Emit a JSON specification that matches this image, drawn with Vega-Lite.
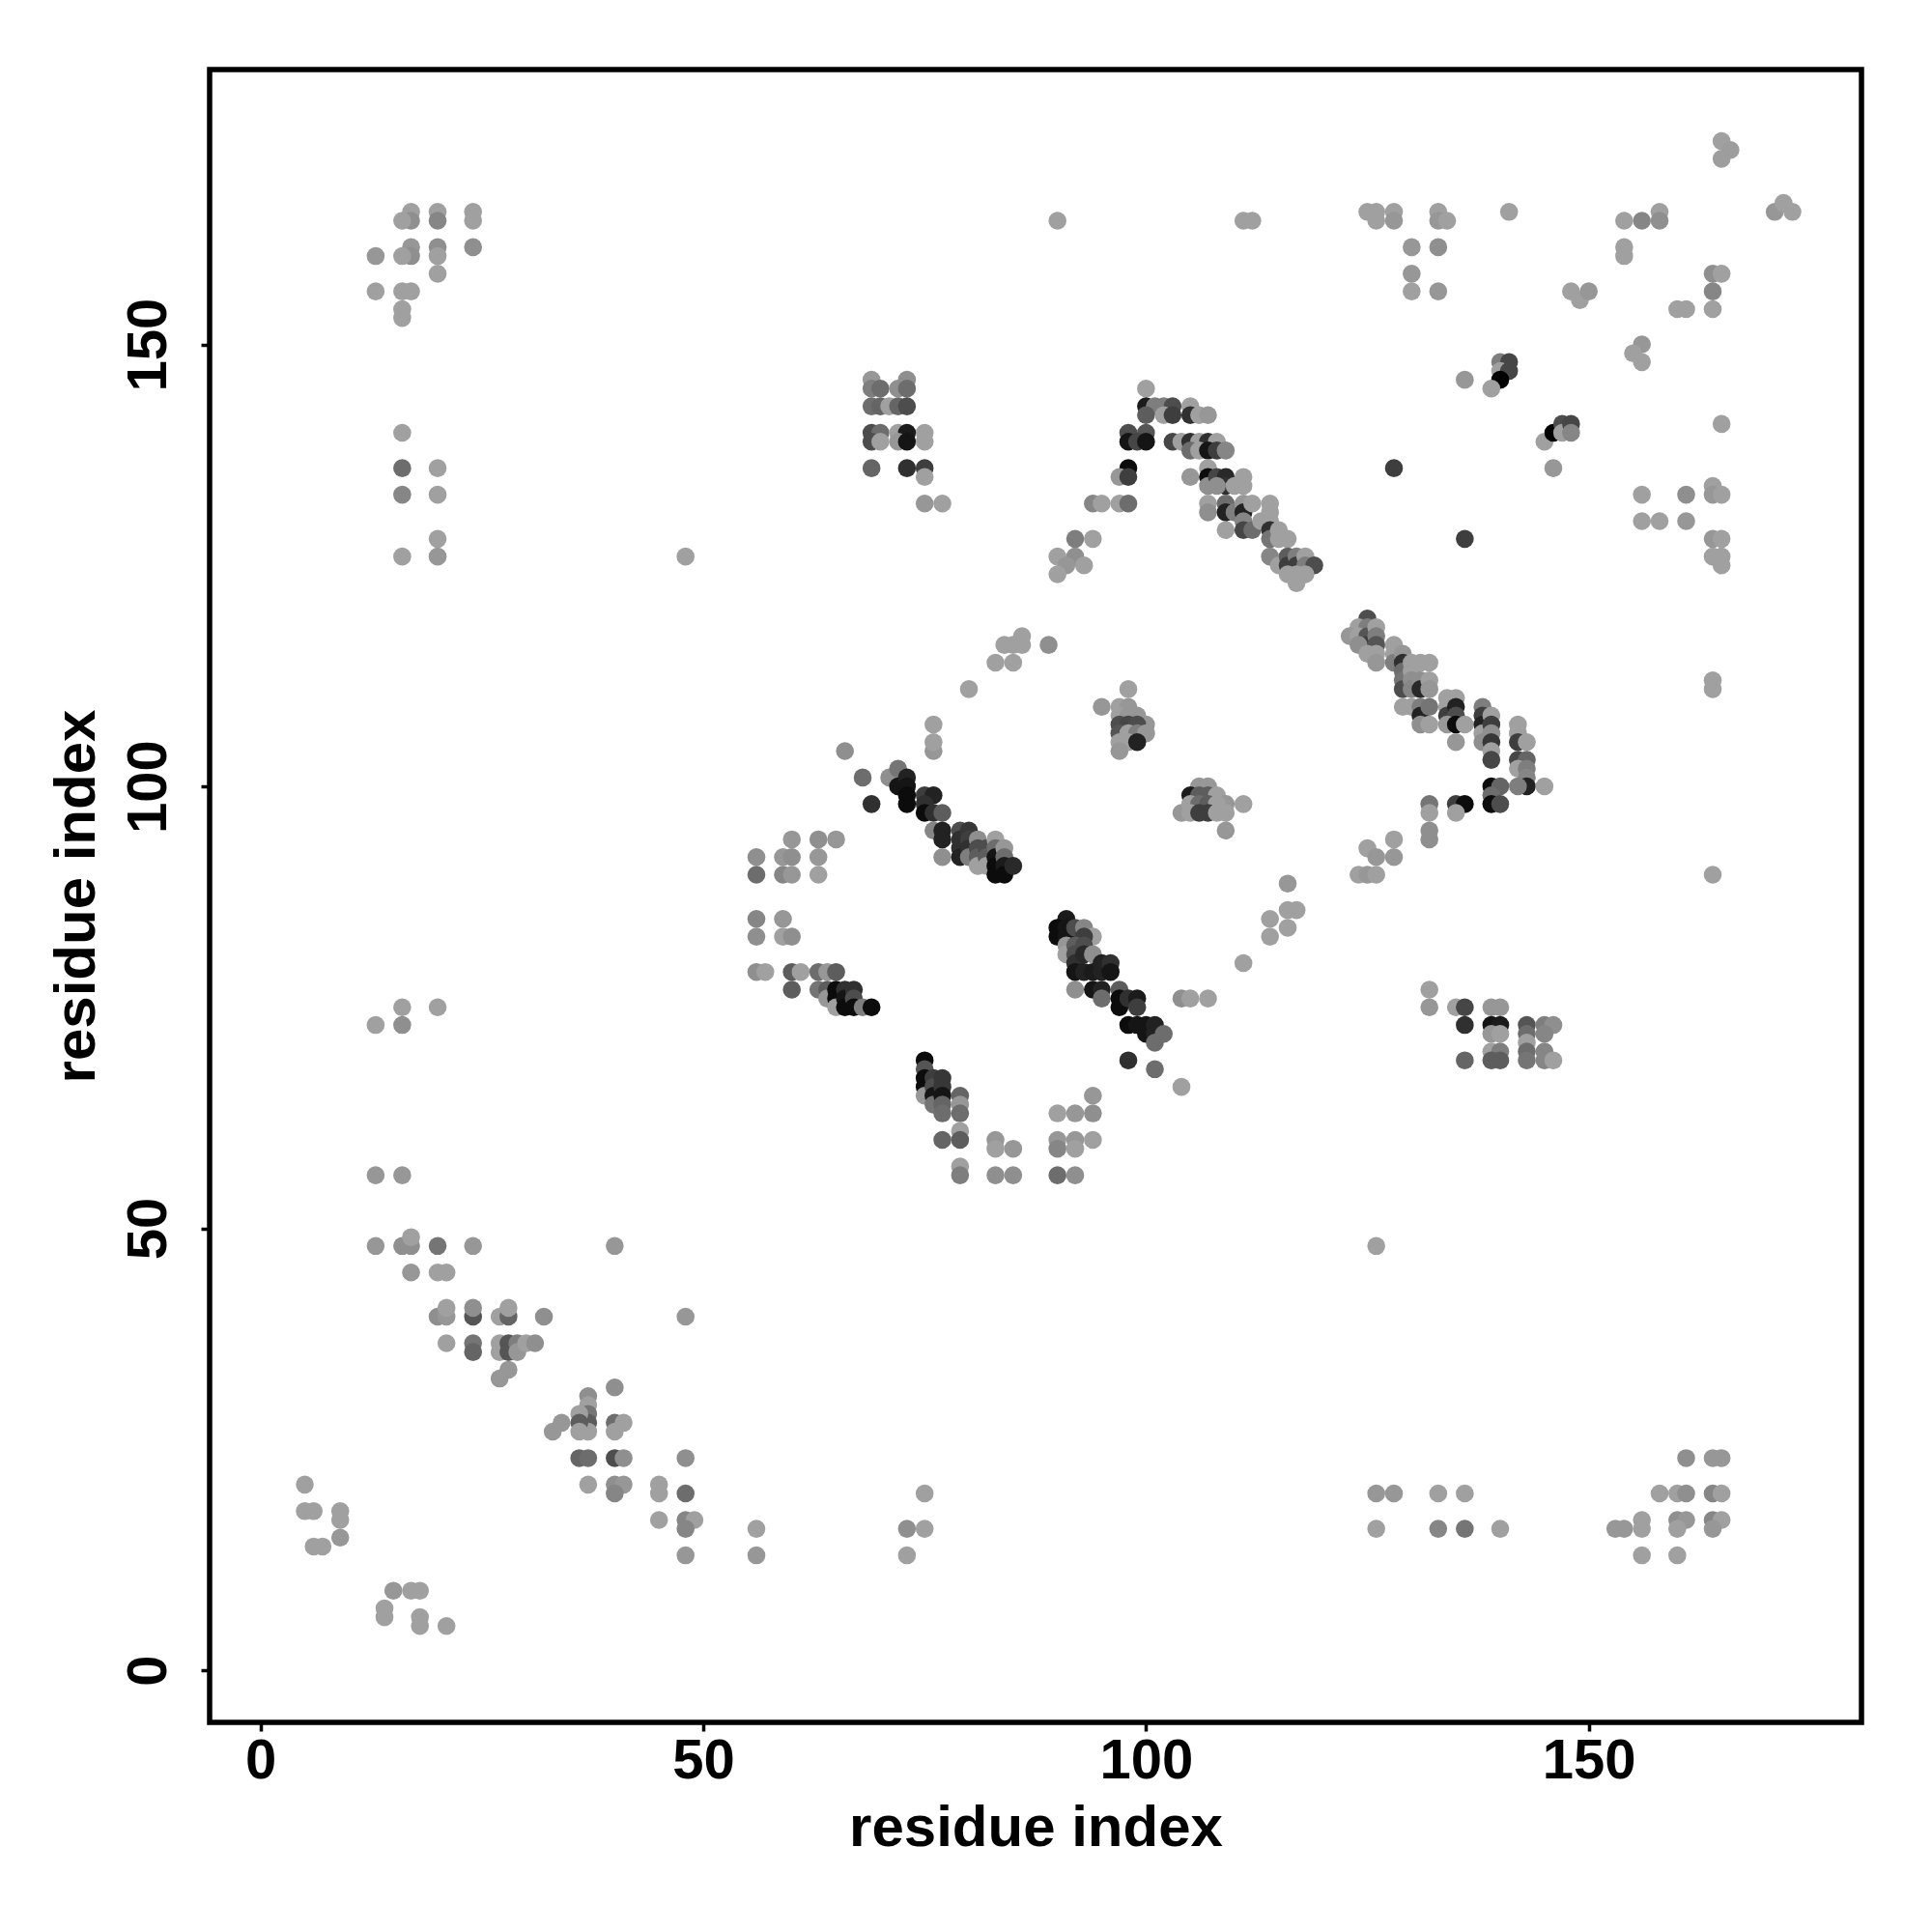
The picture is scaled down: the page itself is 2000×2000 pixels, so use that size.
{"$schema":"https://vega.github.io/schema/vega-lite/v6.json","width":1710,"height":1711,"autosize":{"type":"none"},"padding":{"left":217,"top":72,"right":73,"bottom":217},"background":"white",
"config":{"view":{"stroke":"black","strokeWidth":5.5,"fill":"white"}},
"data":{"values":[
{"x":13,"y":48,"v":0.05},{"x":16,"y":48,"v":0.1},{"x":17,"y":48,"v":0.1},{"x":17,"y":49,"v":0},{"x":20,"y":48,"v":0.25},{"x":24,"y":48,"v":0.05},{"x":40,"y":48,"v":0.05},
{"x":17,"y":45,"v":0.05},{"x":20,"y":45,"v":0},{"x":21,"y":45,"v":0},{"x":20,"y":40,"v":0.1},{"x":21,"y":40,"v":0.05},{"x":21,"y":41,"v":0},{"x":24,"y":40,"v":0.45},{"x":24,"y":41,"v":0.1},{"x":27,"y":40,"v":0},{"x":28,"y":40,"v":0.35},{"x":28,"y":41,"v":0},{"x":32,"y":40,"v":0.1},{"x":48,"y":40,"v":0.05},
{"x":21,"y":37,"v":0},{"x":24,"y":37,"v":0.25},{"x":24,"y":36,"v":0.35},{"x":27,"y":37,"v":0},{"x":27,"y":36,"v":0},{"x":28,"y":37,"v":0.45},{"x":28,"y":36,"v":0.45},{"x":29,"y":37,"v":0.2},{"x":29,"y":36,"v":0.05},{"x":30,"y":37,"v":0},{"x":31,"y":37,"v":0.1},{"x":28,"y":34,"v":0.05},{"x":27,"y":33,"v":0.05},
{"x":40,"y":32,"v":0.1},{"x":37,"y":31,"v":0.1},{"x":37,"y":30,"v":0},{"x":37,"y":29,"v":0.25},{"x":37,"y":28,"v":0.4},{"x":37,"y":27,"v":0},{"x":36,"y":29,"v":0},{"x":36,"y":28,"v":0.4},{"x":36,"y":27,"v":0},{"x":34,"y":28,"v":0.05},{"x":33,"y":27,"v":0.05},{"x":40,"y":28,"v":0.3},{"x":41,"y":28,"v":0},{"x":40,"y":27,"v":0},
{"x":36,"y":24,"v":0.35},{"x":37,"y":24,"v":0.3},{"x":40,"y":24,"v":0.5},{"x":41,"y":24,"v":0.1},{"x":48,"y":24,"v":0.1},{"x":37,"y":21,"v":0},{"x":40,"y":21,"v":0.1},{"x":41,"y":21,"v":0.05},{"x":40,"y":20,"v":0.15},{"x":45,"y":21,"v":0},{"x":45,"y":20,"v":0},{"x":48,"y":20,"v":0.3},{"x":45,"y":17,"v":0},{"x":48,"y":17,"v":0.15},{"x":49,"y":17,"v":0},{"x":48,"y":16,"v":0.15},{"x":48,"y":13,"v":0.05},{"x":56,"y":16,"v":0},{"x":56,"y":13,"v":0.05},
{"x":5,"y":21,"v":0},{"x":5,"y":18,"v":0},{"x":6,"y":18,"v":0},{"x":9,"y":18,"v":0},{"x":9,"y":17,"v":0},{"x":9,"y":15,"v":0.05},{"x":6,"y":14,"v":0},{"x":7,"y":14,"v":0},
{"x":15,"y":9,"v":0.05},{"x":17,"y":9,"v":0},{"x":18,"y":9,"v":0},{"x":14,"y":7,"v":0},{"x":14,"y":6,"v":0},{"x":18,"y":6,"v":0},{"x":18,"y":5,"v":0},{"x":21,"y":5,"v":0},
{"x":66,"y":104,"v":0.1},{"x":76,"y":104,"v":0.05},{"x":76,"y":105,"v":0},{"x":76,"y":107,"v":0},{"x":68,"y":101,"v":0.3},{"x":69,"y":98,"v":0.7},{"x":71,"y":101,"v":0.1},{"x":72,"y":102,"v":0.25},{"x":72,"y":100,"v":0.9},{"x":73,"y":101,"v":0.8},{"x":73,"y":100,"v":0.9},{"x":73,"y":99,"v":0.95},{"x":73,"y":98,"v":0.95},
{"x":75,"y":99,"v":0.6},{"x":76,"y":99,"v":0.8},{"x":75,"y":98,"v":0.7},{"x":75,"y":97,"v":0.95},{"x":76,"y":97,"v":0.7},{"x":77,"y":97,"v":0.4},{"x":76,"y":95,"v":0.15},{"x":77,"y":95,"v":0.8},{"x":77,"y":94,"v":0.8},{"x":77,"y":92,"v":0.1},
{"x":79,"y":95,"v":0.5},{"x":79,"y":94,"v":0.7},{"x":79,"y":93,"v":0.7},{"x":79,"y":92,"v":0.8},{"x":80,"y":95,"v":0.65},{"x":80,"y":94,"v":0.6},{"x":80,"y":93,"v":0.7},{"x":80,"y":92,"v":0.2},{"x":81,"y":94,"v":0.1},{"x":81,"y":93,"v":0.5},{"x":81,"y":92,"v":0.4},{"x":81,"y":91,"v":0},{"x":82,"y":93,"v":0.5},{"x":82,"y":92,"v":0.4},{"x":82,"y":91,"v":0},{"x":83,"y":94,"v":0},{"x":83,"y":93,"v":0.3},{"x":83,"y":92,"v":0.9},{"x":83,"y":91,"v":0.95},{"x":83,"y":90,"v":0.95},{"x":84,"y":93,"v":0.05},{"x":84,"y":92,"v":0.3},{"x":84,"y":91,"v":0.85},{"x":84,"y":90,"v":0.95},{"x":85,"y":91,"v":0.75},
{"x":56,"y":92,"v":0.1},{"x":56,"y":90,"v":0.3},{"x":59,"y":92,"v":0.05},{"x":60,"y":94,"v":0.05},{"x":60,"y":92,"v":0.1},{"x":59,"y":90,"v":0.15},{"x":60,"y":90,"v":0.05},{"x":63,"y":94,"v":0.1},{"x":65,"y":94,"v":0.05},{"x":63,"y":92,"v":0.05},{"x":63,"y":90,"v":0},
{"x":56,"y":85,"v":0.15},{"x":59,"y":85,"v":0.05},{"x":56,"y":83,"v":0.1},{"x":59,"y":83,"v":0},{"x":60,"y":83,"v":0.1},
{"x":56,"y":79,"v":0.1},{"x":57,"y":79,"v":0},{"x":60,"y":79,"v":0.4},{"x":61,"y":79,"v":0},{"x":63,"y":79,"v":0.3},{"x":64,"y":79,"v":0.05},{"x":65,"y":79,"v":0.4},{"x":60,"y":77,"v":0.4},{"x":63,"y":77,"v":0.25},{"x":64,"y":77,"v":0.4},{"x":64,"y":76,"v":0.05},{"x":65,"y":77,"v":0.95},{"x":65,"y":76,"v":0.95},{"x":65,"y":75,"v":0},{"x":66,"y":77,"v":0.7},{"x":66,"y":76,"v":0.9},{"x":66,"y":75,"v":0.95},{"x":67,"y":77,"v":0.7},{"x":67,"y":76,"v":0.5},{"x":67,"y":75,"v":0.95},{"x":68,"y":75,"v":0.2},{"x":69,"y":75,"v":0.95},
{"x":75,"y":69,"v":0.95},{"x":75,"y":68,"v":0.45},{"x":75,"y":67,"v":0.95},{"x":75,"y":66,"v":0.95},{"x":75,"y":65,"v":0.05},{"x":76,"y":67,"v":0.6},{"x":76,"y":66,"v":0.5},{"x":76,"y":65,"v":0.9},{"x":76,"y":64,"v":0.25},{"x":77,"y":67,"v":0.65},{"x":77,"y":66,"v":0.65},{"x":77,"y":65,"v":0.9},{"x":77,"y":64,"v":0.35},{"x":77,"y":63,"v":0.3},{"x":79,"y":65,"v":0.35},{"x":79,"y":64,"v":0.05},{"x":79,"y":63,"v":0.3},{"x":79,"y":61,"v":0},{"x":77,"y":60,"v":0.35},{"x":79,"y":60,"v":0.4},
{"x":83,"y":60,"v":0.05},{"x":83,"y":59,"v":0},{"x":85,"y":59,"v":0.05},{"x":79,"y":57,"v":0},{"x":79,"y":56,"v":0.2},{"x":83,"y":56,"v":0.1},{"x":85,"y":56,"v":0.1},{"x":90,"y":56,"v":0.3},{"x":92,"y":56,"v":0.1},
{"x":90,"y":63,"v":0},{"x":92,"y":63,"v":0.05},{"x":94,"y":63,"v":0.1},{"x":94,"y":65,"v":0.05},{"x":90,"y":60,"v":0.05},{"x":92,"y":60,"v":0.05},{"x":94,"y":60,"v":0},{"x":90,"y":59,"v":0.15},{"x":92,"y":59,"v":0},
{"x":92,"y":77,"v":0.1},{"x":94,"y":77,"v":0.9},{"x":95,"y":77,"v":0.8},{"x":95,"y":76,"v":0.3},{"x":97,"y":77,"v":0.4},{"x":97,"y":76,"v":0.95},{"x":97,"y":75,"v":0.95},{"x":98,"y":76,"v":0.7},{"x":99,"y":76,"v":0.85},{"x":99,"y":75,"v":0.6},{"x":98,"y":73,"v":0.95},{"x":99,"y":73,"v":0.9},{"x":100,"y":73,"v":0.9},{"x":100,"y":72,"v":0.9},{"x":101,"y":73,"v":0.8},{"x":101,"y":72,"v":0.8},{"x":101,"y":71,"v":0.3},{"x":102,"y":72,"v":0.3},{"x":98,"y":69,"v":0.7},{"x":101,"y":68,"v":0.3},{"x":104,"y":66,"v":0},{"x":104,"y":76,"v":0.1},{"x":105,"y":76,"v":0},{"x":107,"y":76,"v":0},
{"x":91,"y":85,"v":0.85},{"x":90,"y":84,"v":0.95},{"x":90,"y":83,"v":0.95},{"x":91,"y":84,"v":0.9},{"x":91,"y":83,"v":0.9},{"x":92,"y":84,"v":0.5},{"x":93,"y":84,"v":0.15},{"x":94,"y":83,"v":0},{"x":93,"y":83,"v":0.6},{"x":91,"y":82,"v":0.05},{"x":91,"y":81,"v":0},{"x":92,"y":82,"v":0.4},{"x":92,"y":81,"v":0.5},{"x":92,"y":80,"v":0.7},{"x":92,"y":79,"v":0.9},{"x":93,"y":82,"v":0.5},{"x":93,"y":81,"v":0.75},{"x":93,"y":79,"v":0.8},{"x":94,"y":81,"v":0.1},{"x":94,"y":79,"v":0.85},{"x":95,"y":80,"v":0.8},{"x":95,"y":79,"v":0.8},{"x":96,"y":80,"v":0.7},{"x":96,"y":79,"v":0.9},
{"x":69,"y":146,"v":0.05},{"x":69,"y":145,"v":0.2},{"x":70,"y":145,"v":0.3},{"x":72,"y":145,"v":0.1},{"x":73,"y":146,"v":0.1},{"x":73,"y":145,"v":0.3},{"x":69,"y":143,"v":0.3},{"x":70,"y":143,"v":0.35},{"x":71,"y":143,"v":0},{"x":72,"y":143,"v":0.35},{"x":73,"y":143,"v":0.5},
{"x":69,"y":140,"v":0.5},{"x":70,"y":140,"v":0.3},{"x":72,"y":140,"v":0},{"x":73,"y":140,"v":0.85},{"x":75,"y":140,"v":0},{"x":69,"y":139,"v":0.5},{"x":70,"y":139,"v":0},{"x":72,"y":139,"v":0.05},{"x":73,"y":139,"v":0.9},{"x":75,"y":139,"v":0},{"x":69,"y":136,"v":0.35},{"x":73,"y":136,"v":0.7},{"x":75,"y":136,"v":0.6},{"x":75,"y":135,"v":0},{"x":75,"y":132,"v":0.05},{"x":77,"y":132,"v":0},
{"x":100,"y":145,"v":0},{"x":100,"y":143,"v":0.85},{"x":101,"y":143,"v":0.2},{"x":102,"y":143,"v":0.2},{"x":103,"y":143,"v":0.5},{"x":105,"y":143,"v":0},{"x":100,"y":142,"v":0.4},{"x":102,"y":142,"v":0},{"x":103,"y":142,"v":0.6},{"x":105,"y":142,"v":0.7},{"x":106,"y":142,"v":0},{"x":107,"y":142,"v":0.05},
{"x":98,"y":140,"v":0.5},{"x":100,"y":140,"v":0.45},{"x":98,"y":139,"v":0.9},{"x":99,"y":139,"v":0.55},{"x":100,"y":139,"v":0.9},{"x":103,"y":139,"v":0.55},{"x":104,"y":139,"v":0},{"x":105,"y":139,"v":0.7},{"x":106,"y":139,"v":0},{"x":107,"y":139,"v":0.7},{"x":108,"y":139,"v":0},{"x":105,"y":138,"v":0.3},{"x":106,"y":138,"v":0},{"x":107,"y":138,"v":0.9},{"x":108,"y":138,"v":0.6},{"x":109,"y":138,"v":0.15},
{"x":98,"y":136,"v":0.95},{"x":97,"y":135,"v":0.05},{"x":98,"y":135,"v":0.6},{"x":105,"y":135,"v":0.05},{"x":107,"y":136,"v":0},{"x":107,"y":135,"v":0.95},{"x":107,"y":134,"v":0.1},{"x":108,"y":135,"v":0.55},{"x":109,"y":135,"v":0.75},{"x":109,"y":134,"v":0.7},{"x":108,"y":134,"v":0.1},{"x":110,"y":134,"v":0},{"x":111,"y":135,"v":0},{"x":111,"y":134,"v":0},
{"x":94,"y":132,"v":0.15},{"x":95,"y":132,"v":0},{"x":97,"y":132,"v":0},{"x":98,"y":132,"v":0.3},{"x":107,"y":132,"v":0},{"x":107,"y":131,"v":0.1},{"x":109,"y":132,"v":0.3},{"x":109,"y":131,"v":0.8},{"x":109,"y":129,"v":0},{"x":110,"y":131,"v":0.2},{"x":111,"y":132,"v":0.05},{"x":111,"y":131,"v":0.8},{"x":112,"y":132,"v":0},{"x":111,"y":130,"v":0.15},{"x":111,"y":129,"v":0.55},{"x":112,"y":129,"v":0.3},{"x":113,"y":130,"v":0},{"x":114,"y":132,"v":0},{"x":114,"y":131,"v":0},{"x":114,"y":130,"v":0},{"x":114,"y":129,"v":0.7},{"x":114,"y":128,"v":0.25},{"x":115,"y":129,"v":0},{"x":115,"y":128,"v":0},{"x":116,"y":128,"v":0},
{"x":92,"y":128,"v":0.2},{"x":94,"y":128,"v":0},{"x":90,"y":126,"v":0},{"x":92,"y":126,"v":0.1},{"x":91,"y":125,"v":0.05},{"x":93,"y":125,"v":0},{"x":90,"y":124,"v":0},
{"x":114,"y":126,"v":0.15},{"x":115,"y":125,"v":0},{"x":116,"y":126,"v":0.4},{"x":116,"y":125,"v":0.6},{"x":117,"y":126,"v":0.2},{"x":117,"y":125,"v":0.6},{"x":118,"y":126,"v":0},{"x":118,"y":125,"v":0.2},{"x":119,"y":125,"v":0.5},{"x":116,"y":124,"v":0},{"x":117,"y":124,"v":0},{"x":118,"y":124,"v":0},{"x":117,"y":123,"v":0},
{"x":125,"y":119,"v":0.5},{"x":124,"y":118,"v":0},{"x":125,"y":118,"v":0.2},{"x":123,"y":117,"v":0.05},{"x":124,"y":117,"v":0},{"x":125,"y":117,"v":0.45},{"x":125,"y":116,"v":0.6},{"x":124,"y":116,"v":0.1},{"x":126,"y":118,"v":0},{"x":126,"y":117,"v":0.2},{"x":126,"y":116,"v":0.45},{"x":125,"y":115,"v":0},{"x":126,"y":115,"v":0},{"x":126,"y":114,"v":0.05},
{"x":128,"y":116,"v":0},{"x":128,"y":115,"v":0},{"x":128,"y":114,"v":0.2},{"x":129,"y":115,"v":0.05},{"x":129,"y":114,"v":0.7},{"x":129,"y":113,"v":0.3},{"x":129,"y":112,"v":0.25},{"x":129,"y":111,"v":0.5},{"x":129,"y":109,"v":0},{"x":130,"y":114,"v":0},{"x":130,"y":113,"v":0},{"x":130,"y":112,"v":0.1},{"x":130,"y":111,"v":0.15},{"x":130,"y":109,"v":0},{"x":131,"y":114,"v":0},{"x":132,"y":114,"v":0},{"x":131,"y":112,"v":0.1},{"x":131,"y":111,"v":0.75},{"x":132,"y":112,"v":0},{"x":132,"y":111,"v":0.05},{"x":131,"y":109,"v":0.2},{"x":131,"y":108,"v":0.8},{"x":132,"y":109,"v":0.25},{"x":131,"y":107,"v":0.1},{"x":132,"y":107,"v":0},
{"x":134,"y":110,"v":0},{"x":135,"y":110,"v":0},{"x":134,"y":109,"v":0},{"x":134,"y":108,"v":0.6},{"x":135,"y":109,"v":0.8},{"x":135,"y":108,"v":0.5},{"x":134,"y":107,"v":0.05},{"x":135,"y":107,"v":0.95},{"x":136,"y":107,"v":0},{"x":135,"y":105,"v":0.05},
{"x":138,"y":109,"v":0.2},{"x":138,"y":108,"v":0.6},{"x":138,"y":107,"v":0.8},{"x":138,"y":106,"v":0},{"x":138,"y":105,"v":0.1},{"x":139,"y":108,"v":0},{"x":139,"y":107,"v":0.6},{"x":139,"y":106,"v":0.1},{"x":139,"y":105,"v":0.65},{"x":139,"y":104,"v":0},{"x":139,"y":103,"v":0.55},
{"x":142,"y":107,"v":0},{"x":142,"y":106,"v":0},{"x":142,"y":105,"v":0.6},{"x":143,"y":105,"v":0},{"x":142,"y":103,"v":0.55},{"x":143,"y":103,"v":0.35},{"x":142,"y":102,"v":0},{"x":143,"y":102,"v":0.2},{"x":143,"y":101,"v":0.15},{"x":143,"y":100,"v":0.8},{"x":142,"y":100,"v":0.2},{"x":145,"y":100,"v":0},
{"x":139,"y":100,"v":0.95},{"x":140,"y":100,"v":0.35},{"x":139,"y":99,"v":0.3},{"x":139,"y":98,"v":0.95},{"x":140,"y":98,"v":0.5},{"x":132,"y":98,"v":0.25},{"x":135,"y":98,"v":0.6},{"x":136,"y":98,"v":0.95},{"x":132,"y":97,"v":0},{"x":132,"y":95,"v":0.1},{"x":132,"y":94,"v":0.1},{"x":135,"y":97,"v":0},
{"x":98,"y":111,"v":0},{"x":95,"y":109,"v":0.05},{"x":97,"y":109,"v":0},{"x":98,"y":109,"v":0.05},{"x":99,"y":108,"v":0.05},{"x":100,"y":107,"v":0.05},{"x":97,"y":108,"v":0},{"x":98,"y":108,"v":0.05},{"x":97,"y":107,"v":0.5},{"x":98,"y":107,"v":0.55},{"x":99,"y":107,"v":0.5},{"x":97,"y":106,"v":0.45},{"x":98,"y":106,"v":0},{"x":99,"y":106,"v":0.2},{"x":100,"y":106,"v":0.05},{"x":97,"y":105,"v":0},{"x":98,"y":105,"v":0},{"x":99,"y":105,"v":0.8},{"x":97,"y":104,"v":0.05},
{"x":106,"y":100,"v":0.05},{"x":107,"y":100,"v":0.05},{"x":105,"y":99,"v":0.85},{"x":106,"y":99,"v":0.4},{"x":107,"y":99,"v":0.4},{"x":108,"y":99,"v":0},{"x":104,"y":97,"v":0.05},{"x":105,"y":98,"v":0},{"x":106,"y":98,"v":0.3},{"x":107,"y":98,"v":0.4},{"x":109,"y":98,"v":0.05},{"x":108,"y":98,"v":0},{"x":111,"y":98,"v":0},{"x":105,"y":97,"v":0},{"x":106,"y":97,"v":0.6},{"x":107,"y":97,"v":0.6},{"x":108,"y":97,"v":0},{"x":109,"y":97,"v":0},{"x":109,"y":95,"v":0.05},
{"x":80,"y":111,"v":0},{"x":83,"y":114,"v":0},{"x":85,"y":114,"v":0},{"x":84,"y":116,"v":0},{"x":85,"y":116,"v":0},{"x":86,"y":117,"v":0},{"x":86,"y":116,"v":0},{"x":89,"y":116,"v":0.1},
{"x":116,"y":89,"v":0.05},{"x":114,"y":85,"v":0},{"x":114,"y":83,"v":0},{"x":116,"y":86,"v":0},{"x":116,"y":84,"v":0},{"x":117,"y":86,"v":0},{"x":111,"y":80,"v":0},
{"x":124,"y":90,"v":0},{"x":125,"y":93,"v":0},{"x":125,"y":90,"v":0.05},{"x":126,"y":92,"v":0.05},{"x":126,"y":90,"v":0},{"x":128,"y":94,"v":0},{"x":128,"y":92,"v":0.05},
{"x":132,"y":77,"v":0},{"x":132,"y":75,"v":0.05},{"x":135,"y":75,"v":0},{"x":136,"y":75,"v":0.55},{"x":136,"y":73,"v":0.7},{"x":136,"y":69,"v":0.35},{"x":139,"y":75,"v":0.05},{"x":140,"y":75,"v":0.05},{"x":139,"y":73,"v":0.9},{"x":140,"y":73,"v":0.85},{"x":139,"y":72,"v":0.05},{"x":140,"y":72,"v":0},{"x":139,"y":70,"v":0},{"x":140,"y":70,"v":0.2},{"x":139,"y":69,"v":0.4},{"x":140,"y":69,"v":0.4},{"x":143,"y":73,"v":0.45},{"x":143,"y":72,"v":0.3},{"x":143,"y":71,"v":0},{"x":143,"y":70,"v":0.3},{"x":143,"y":69,"v":0.25},{"x":145,"y":73,"v":0.2},{"x":146,"y":73,"v":0.1},{"x":145,"y":72,"v":0.15},{"x":145,"y":70,"v":0.15},{"x":145,"y":69,"v":0.15},{"x":146,"y":69,"v":0},
{"x":126,"y":20,"v":0.05},{"x":128,"y":20,"v":0.05},{"x":133,"y":20,"v":0},{"x":136,"y":20,"v":0},{"x":126,"y":16,"v":0},{"x":133,"y":16,"v":0.15},{"x":136,"y":16,"v":0.25},{"x":140,"y":16,"v":0},
{"x":153,"y":16,"v":0.05},{"x":154,"y":16,"v":0.05},{"x":156,"y":17,"v":0},{"x":156,"y":16,"v":0},{"x":156,"y":13,"v":0},{"x":158,"y":20,"v":0},{"x":160,"y":20,"v":0},{"x":161,"y":20,"v":0.1},{"x":161,"y":24,"v":0.1},{"x":164,"y":24,"v":0.05},{"x":165,"y":24,"v":0.05},{"x":164,"y":20,"v":0.15},{"x":165,"y":20,"v":0},{"x":160,"y":17,"v":0.1},{"x":161,"y":17,"v":0.05},{"x":160,"y":16,"v":0},{"x":164,"y":17,"v":0.15},{"x":165,"y":17,"v":0},{"x":164,"y":16,"v":0.05},{"x":160,"y":13,"v":0},
{"x":75,"y":20,"v":0},{"x":73,"y":16,"v":0.1},{"x":75,"y":16,"v":0},{"x":73,"y":13,"v":0},{"x":126,"y":48,"v":0},
{"x":13,"y":73,"v":0},{"x":16,"y":75,"v":0},{"x":16,"y":73,"v":0.1},{"x":20,"y":75,"v":0},{"x":13,"y":56,"v":0.05},{"x":16,"y":56,"v":0.05},
{"x":16,"y":140,"v":0},{"x":16,"y":136,"v":0.3},{"x":20,"y":136,"v":0},{"x":16,"y":133,"v":0.15},{"x":20,"y":133,"v":0},{"x":20,"y":128,"v":0},{"x":16,"y":126,"v":0},{"x":20,"y":126,"v":0.05},{"x":48,"y":126,"v":0},
{"x":17,"y":165,"v":0},{"x":17,"y":164,"v":0.1},{"x":16,"y":164,"v":0},{"x":20,"y":165,"v":0},{"x":20,"y":164,"v":0.15},{"x":24,"y":165,"v":0},{"x":24,"y":164,"v":0},{"x":17,"y":161,"v":0.05},{"x":17,"y":160,"v":0.1},{"x":16,"y":160,"v":0},{"x":20,"y":161,"v":0.1},{"x":20,"y":160,"v":0},{"x":20,"y":158,"v":0},{"x":24,"y":161,"v":0.1},{"x":13,"y":160,"v":0.05},{"x":13,"y":156,"v":0},{"x":16,"y":156,"v":0},{"x":17,"y":156,"v":0},{"x":16,"y":154,"v":0},{"x":16,"y":153,"v":0},
{"x":125,"y":165,"v":0},{"x":126,"y":165,"v":0},{"x":126,"y":164,"v":0},{"x":128,"y":165,"v":0},{"x":128,"y":164,"v":0.05},{"x":133,"y":165,"v":0},{"x":133,"y":164,"v":0.05},{"x":134,"y":164,"v":0},{"x":141,"y":165,"v":0},{"x":130,"y":161,"v":0.05},{"x":133,"y":161,"v":0.1},{"x":130,"y":158,"v":0.05},{"x":130,"y":156,"v":0},{"x":133,"y":156,"v":0.05},{"x":136,"y":146,"v":0.05},{"x":140,"y":148,"v":0.2},{"x":141,"y":148,"v":0.55},{"x":140,"y":147,"v":0},{"x":141,"y":147,"v":0.55},{"x":140,"y":146,"v":1},{"x":139,"y":145,"v":0},
{"x":148,"y":156,"v":0},{"x":149,"y":155,"v":0},{"x":150,"y":156,"v":0.05},{"x":154,"y":164,"v":0},{"x":154,"y":161,"v":0},{"x":154,"y":160,"v":0},{"x":156,"y":164,"v":0.15},{"x":158,"y":165,"v":0},{"x":158,"y":164,"v":0.1},{"x":160,"y":154,"v":0},{"x":161,"y":154,"v":0},{"x":164,"y":158,"v":0.1},{"x":165,"y":158,"v":0},{"x":164,"y":156,"v":0.15},{"x":164,"y":154,"v":0},{"x":156,"y":150,"v":0.05},{"x":155,"y":149,"v":0},{"x":156,"y":148,"v":0},
{"x":145,"y":139,"v":0},{"x":146,"y":140,"v":1},{"x":147,"y":141,"v":0.5},{"x":147,"y":140,"v":0},{"x":148,"y":141,"v":0.55},{"x":148,"y":140,"v":0.15},{"x":165,"y":141,"v":0},{"x":146,"y":136,"v":0.05},{"x":165,"y":173,"v":0},{"x":166,"y":172,"v":0.02},{"x":165,"y":171,"v":0.02},{"x":171,"y":165,"v":0.05},{"x":172,"y":166,"v":0},{"x":173,"y":165,"v":0},
{"x":128,"y":136,"v":0.6},{"x":136,"y":128,"v":0.6},{"x":156,"y":133,"v":0},{"x":156,"y":130,"v":0},{"x":158,"y":130,"v":0},{"x":161,"y":133,"v":0.1},{"x":161,"y":130,"v":0.05},{"x":164,"y":134,"v":0},{"x":164,"y":133,"v":0.05},{"x":165,"y":133,"v":0},{"x":164,"y":128,"v":0.05},{"x":165,"y":128,"v":0},{"x":164,"y":126,"v":0},{"x":165,"y":126,"v":0},{"x":165,"y":125,"v":0},{"x":164,"y":112,"v":0},{"x":164,"y":111,"v":0},{"x":164,"y":90,"v":0},{"x":90,"y":164,"v":0},{"x":111,"y":164,"v":0},{"x":112,"y":164,"v":0}
]},
"mark":{"type":"point","shape":"circle","filled":true,"opacity":1,"size":345},
"encoding":{
"x":{"field":"x","type":"quantitative","scale":{"domain":[-5.75,180.8],"nice":false,"zero":false},"axis":{"title":"residue index","values":[0,50,100,150],"grid":false,"domain":false,"tickColor":"black","tickWidth":3.5,"tickSize":9,"labelFont":"Liberation Sans","labelFontWeight":"bold","labelFontSize":58,"labelColor":"black","labelPadding":2,"titleFont":"Liberation Sans","titleFontWeight":"bold","titleFontSize":60,"titleColor":"black","titlePadding":11}},
"y":{"field":"y","type":"quantitative","scale":{"domain":[-5.9,181.1],"nice":false,"zero":false},"axis":{"title":"residue index","values":[0,50,100,150],"grid":false,"domain":false,"tickColor":"black","tickWidth":3.5,"tickSize":9,"labelFont":"Liberation Sans","labelFontWeight":"bold","labelFontSize":58,"labelColor":"black","labelAngle":-90,"labelAlign":"center","labelBaseline":"bottom","labelPadding":25,"titleFont":"Liberation Sans","titleFontWeight":"bold","titleFontSize":60,"titleColor":"black","titlePadding":15}},
"color":{"field":"v","type":"quantitative","legend":null,"scale":{"domain":[0,1],"range":["#a0a0a0","#000000"]}},
"order":[{"field":"x","type":"quantitative"},{"field":"y","type":"quantitative"}]
}}
